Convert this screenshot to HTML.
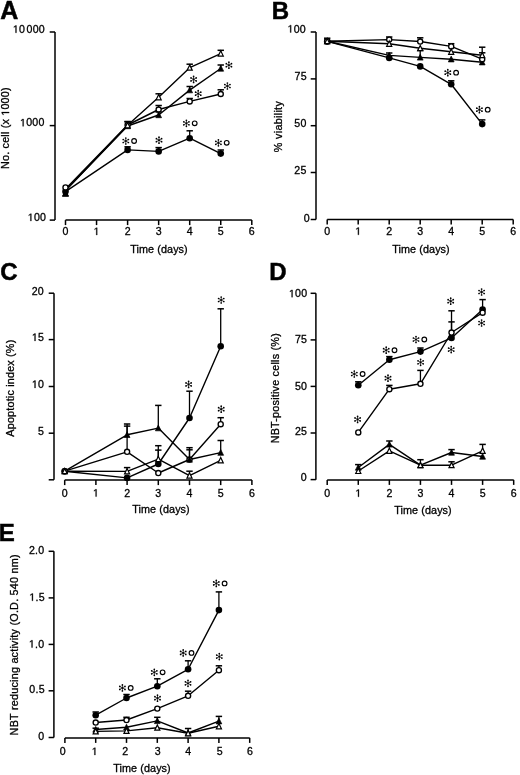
<!DOCTYPE html><html><head><meta charset="utf-8"><title>Figure</title><style>html,body{margin:0;padding:0;background:#fff;}svg{display:block;filter:grayscale(1);}text{font-family:"Liberation Sans", sans-serif;fill:#000;stroke:#000;stroke-width:0.3px;}text.L{stroke-width:0.5px;} tspan.o1{fill:transparent;stroke:none;}</style></head><body>
<svg width="520" height="775" viewBox="0 0 520 775">
<rect width="520" height="775" fill="#fff"/>
<g stroke="#000" fill="none" stroke-linecap="butt">
<line x1="55.00" y1="32.00" x2="55.00" y2="220.10" stroke-width="1.5"/>
<line x1="49.70" y1="32.00" x2="55.00" y2="32.00" stroke-width="1.5"/>
<text id="t1" x="45.0" y="32.8" font-size="10.6" text-anchor="end" letter-spacing="0.25"><tspan class="o1">1</tspan>0<tspan dx="1.4">000</tspan></text>
<path transform="translate(12.850 32.800) scale(0.005176 -0.005176)" d="M515,0L696,0L696,1409L530,1409L197,1180L197,1010L515,1237Z" fill="#000" stroke="#000" stroke-width="0.3" vector-effect="non-scaling-stroke"/>
<line x1="49.70" y1="125.60" x2="55.00" y2="125.60" stroke-width="1.5"/>
<text id="t2" x="44.6" y="126.3" font-size="10.6" text-anchor="end" letter-spacing="0.25"><tspan class="o1">1</tspan>000</text>
<path transform="translate(20.006 126.300) scale(0.005176 -0.005176)" d="M515,0L696,0L696,1409L530,1409L197,1180L197,1010L515,1237Z" fill="#000" stroke="#000" stroke-width="0.3" vector-effect="non-scaling-stroke"/>
<line x1="49.70" y1="220.10" x2="55.00" y2="220.10" stroke-width="1.5"/>
<text id="t3" x="46.2" y="221.0" font-size="10.6" text-anchor="end" letter-spacing="0.25"><tspan class="o1">1</tspan>00</text>
<path transform="translate(27.747 221.000) scale(0.005176 -0.005176)" d="M515,0L696,0L696,1409L530,1409L197,1180L197,1010L515,1237Z" fill="#000" stroke="#000" stroke-width="0.3" vector-effect="non-scaling-stroke"/>
<line x1="65.50" y1="220.10" x2="251.80" y2="220.10" stroke-width="1.5"/>
<line x1="65.50" y1="220.10" x2="65.50" y2="225.10" stroke-width="1.5"/>
<line x1="96.55" y1="220.10" x2="96.55" y2="225.10" stroke-width="1.5"/>
<line x1="127.60" y1="220.10" x2="127.60" y2="225.10" stroke-width="1.5"/>
<line x1="158.65" y1="220.10" x2="158.65" y2="225.10" stroke-width="1.5"/>
<line x1="189.70" y1="220.10" x2="189.70" y2="225.10" stroke-width="1.5"/>
<line x1="220.75" y1="220.10" x2="220.75" y2="225.10" stroke-width="1.5"/>
<line x1="251.80" y1="220.10" x2="251.80" y2="225.10" stroke-width="1.5"/>
<text x="65.50" y="235.0" font-size="10.6" text-anchor="middle">0</text>
<text id="t4" x="96.55" y="235.0" font-size="10.6" text-anchor="middle"><tspan class="o1">1</tspan></text>
<path transform="translate(93.597 235.000) scale(0.005176 -0.005176)" d="M515,0L696,0L696,1409L530,1409L197,1180L197,1010L515,1237Z" fill="#000" stroke="#000" stroke-width="0.3" vector-effect="non-scaling-stroke"/>
<text x="127.60" y="235.0" font-size="10.6" text-anchor="middle">2</text>
<text x="158.65" y="235.0" font-size="10.6" text-anchor="middle">3</text>
<text x="189.70" y="235.0" font-size="10.6" text-anchor="middle">4</text>
<text x="220.75" y="235.0" font-size="10.6" text-anchor="middle">5</text>
<text x="251.80" y="235.0" font-size="10.6" text-anchor="middle">6</text>
<text x="159.0" y="252.6" font-size="10.8" text-anchor="middle" textLength="57.4" lengthAdjust="spacing">Time (days)</text>
<text id="t5" x="9.1" y="128.2" font-size="10.8" text-anchor="middle" transform="rotate(-90 9.1 128.2)" textLength="81.6" lengthAdjust="spacing">No. cell (x <tspan class="o1">1</tspan>000)</text>
<g transform="rotate(-90 9.1 128.2)"><path transform="translate(21.516 128.200) scale(0.005273 -0.005273)" d="M515,0L696,0L696,1409L530,1409L197,1180L197,1010L515,1237Z" fill="#000" stroke="#000" stroke-width="0.3" vector-effect="non-scaling-stroke"/></g>
<text x="0.2" y="18.5" font-size="25" font-weight="bold" class="L">A</text>
<polyline points="65.50,191.60 127.60,149.90 158.65,151.40 189.70,138.20 220.75,153.60" fill="none" stroke-width="1.4" stroke-linejoin="round"/>
<polyline points="65.50,190.50 127.60,126.00 158.65,115.00 189.70,90.10 220.75,68.50" fill="none" stroke-width="1.4" stroke-linejoin="round"/>
<polyline points="65.50,190.50 127.60,125.30 158.65,97.30 189.70,67.70 220.75,53.60" fill="none" stroke-width="1.4" stroke-linejoin="round"/>
<polyline points="65.50,189.00 127.60,125.00 158.65,109.50 189.70,101.40 220.75,94.00" fill="none" stroke-width="1.4" stroke-linejoin="round"/>
<line x1="127.60" y1="149.90" x2="127.60" y2="146.80" stroke-width="1.3"/>
<line x1="124.40" y1="146.80" x2="130.80" y2="146.80" stroke-width="1.5"/>
<line x1="158.65" y1="151.40" x2="158.65" y2="147.60" stroke-width="1.3"/>
<line x1="155.45" y1="147.60" x2="161.85" y2="147.60" stroke-width="1.5"/>
<line x1="189.70" y1="138.20" x2="189.70" y2="130.80" stroke-width="1.3"/>
<line x1="186.50" y1="130.80" x2="192.90" y2="130.80" stroke-width="1.5"/>
<line x1="220.75" y1="153.60" x2="220.75" y2="150.00" stroke-width="1.3"/>
<line x1="217.55" y1="150.00" x2="223.95" y2="150.00" stroke-width="1.5"/>
<line x1="158.65" y1="115.00" x2="158.65" y2="112.00" stroke-width="1.3"/>
<line x1="155.45" y1="112.00" x2="161.85" y2="112.00" stroke-width="1.5"/>
<line x1="189.70" y1="90.10" x2="189.70" y2="86.50" stroke-width="1.3"/>
<line x1="186.50" y1="86.50" x2="192.90" y2="86.50" stroke-width="1.5"/>
<line x1="220.75" y1="68.50" x2="220.75" y2="65.00" stroke-width="1.3"/>
<line x1="217.55" y1="65.00" x2="223.95" y2="65.00" stroke-width="1.5"/>
<line x1="127.60" y1="125.30" x2="127.60" y2="121.80" stroke-width="1.3"/>
<line x1="124.40" y1="121.80" x2="130.80" y2="121.80" stroke-width="1.5"/>
<line x1="158.65" y1="97.30" x2="158.65" y2="93.80" stroke-width="1.3"/>
<line x1="155.45" y1="93.80" x2="161.85" y2="93.80" stroke-width="1.5"/>
<line x1="189.70" y1="67.70" x2="189.70" y2="64.20" stroke-width="1.3"/>
<line x1="186.50" y1="64.20" x2="192.90" y2="64.20" stroke-width="1.5"/>
<line x1="220.75" y1="53.60" x2="220.75" y2="50.30" stroke-width="1.3"/>
<line x1="217.55" y1="50.30" x2="223.95" y2="50.30" stroke-width="1.5"/>
<line x1="127.60" y1="125.00" x2="127.60" y2="121.50" stroke-width="1.3"/>
<line x1="124.40" y1="121.50" x2="130.80" y2="121.50" stroke-width="1.5"/>
<line x1="158.65" y1="109.50" x2="158.65" y2="105.50" stroke-width="1.3"/>
<line x1="155.45" y1="105.50" x2="161.85" y2="105.50" stroke-width="1.5"/>
<line x1="189.70" y1="101.40" x2="189.70" y2="98.50" stroke-width="1.3"/>
<line x1="186.50" y1="98.50" x2="192.90" y2="98.50" stroke-width="1.5"/>
<line x1="220.75" y1="94.00" x2="220.75" y2="89.80" stroke-width="1.3"/>
<line x1="217.55" y1="89.80" x2="223.95" y2="89.80" stroke-width="1.5"/>
<circle cx="127.60" cy="125.00" r="2.55" fill="#fff" stroke-width="1.35"/>
<circle cx="158.65" cy="109.50" r="2.55" fill="#fff" stroke-width="1.35"/>
<circle cx="189.70" cy="101.40" r="2.55" fill="#fff" stroke-width="1.35"/>
<circle cx="220.75" cy="94.00" r="2.55" fill="#fff" stroke-width="1.35"/>
<polygon points="127.60,122.90 124.70,128.70 130.50,128.70" fill="#000" stroke-width="0.7" stroke-linejoin="miter"/>
<polygon points="158.65,111.90 155.75,117.70 161.55,117.70" fill="#000" stroke-width="0.7" stroke-linejoin="miter"/>
<polygon points="189.70,87.00 186.80,92.80 192.60,92.80" fill="#000" stroke-width="0.7" stroke-linejoin="miter"/>
<polygon points="220.75,65.40 217.85,71.20 223.65,71.20" fill="#000" stroke-width="0.7" stroke-linejoin="miter"/>
<polygon points="65.50,190.80 62.95,196.10 68.05,196.10" fill="#fff" stroke-width="1.2" stroke-linejoin="miter"/>
<polygon points="127.60,122.50 125.05,127.80 130.15,127.80" fill="#fff" stroke-width="1.2" stroke-linejoin="miter"/>
<polygon points="158.65,94.50 156.10,99.80 161.20,99.80" fill="#fff" stroke-width="1.2" stroke-linejoin="miter"/>
<polygon points="189.70,64.90 187.15,70.20 192.25,70.20" fill="#fff" stroke-width="1.2" stroke-linejoin="miter"/>
<polygon points="220.75,50.80 218.20,56.10 223.30,56.10" fill="#fff" stroke-width="1.2" stroke-linejoin="miter"/>
<polygon points="65.50,190.20 62.60,196.00 68.40,196.00" fill="#000" stroke-width="0.7" stroke-linejoin="miter"/>
<circle cx="65.50" cy="191.60" r="3.3" fill="#000" stroke="none"/>
<circle cx="127.60" cy="149.90" r="3.3" fill="#000" stroke="none"/>
<circle cx="158.65" cy="151.40" r="3.3" fill="#000" stroke="none"/>
<circle cx="189.70" cy="138.20" r="3.3" fill="#000" stroke="none"/>
<circle cx="220.75" cy="153.60" r="3.3" fill="#000" stroke="none"/>
<circle cx="65.50" cy="187.40" r="2.55" fill="#fff" stroke-width="1.35"/>
<line x1="125.80" y1="138.00" x2="125.80" y2="144.00" stroke-width="0.7"/>
<circle cx="125.80" cy="138.00" r="0.85" fill="#000" stroke="none"/>
<circle cx="125.80" cy="144.00" r="0.85" fill="#000" stroke="none"/>
<line x1="123.20" y1="139.50" x2="128.40" y2="142.50" stroke-width="0.7"/>
<circle cx="123.20" cy="139.50" r="0.85" fill="#000" stroke="none"/>
<circle cx="128.40" cy="142.50" r="0.85" fill="#000" stroke="none"/>
<line x1="128.40" y1="139.50" x2="123.20" y2="142.50" stroke-width="0.7"/>
<circle cx="128.40" cy="139.50" r="0.85" fill="#000" stroke="none"/>
<circle cx="123.20" cy="142.50" r="0.85" fill="#000" stroke="none"/>
<circle cx="125.80" cy="141.00" r="0.85" fill="#000" stroke="none"/>
<circle cx="134.10" cy="141.00" r="2.35" fill="none" stroke-width="1.15"/>
<line x1="159.00" y1="137.20" x2="159.00" y2="143.20" stroke-width="0.7"/>
<circle cx="159.00" cy="137.20" r="0.85" fill="#000" stroke="none"/>
<circle cx="159.00" cy="143.20" r="0.85" fill="#000" stroke="none"/>
<line x1="156.40" y1="138.70" x2="161.60" y2="141.70" stroke-width="0.7"/>
<circle cx="156.40" cy="138.70" r="0.85" fill="#000" stroke="none"/>
<circle cx="161.60" cy="141.70" r="0.85" fill="#000" stroke="none"/>
<line x1="161.60" y1="138.70" x2="156.40" y2="141.70" stroke-width="0.7"/>
<circle cx="161.60" cy="138.70" r="0.85" fill="#000" stroke="none"/>
<circle cx="156.40" cy="141.70" r="0.85" fill="#000" stroke="none"/>
<circle cx="159.00" cy="140.20" r="0.85" fill="#000" stroke="none"/>
<line x1="193.60" y1="76.40" x2="193.60" y2="82.40" stroke-width="0.7"/>
<circle cx="193.60" cy="76.40" r="0.85" fill="#000" stroke="none"/>
<circle cx="193.60" cy="82.40" r="0.85" fill="#000" stroke="none"/>
<line x1="191.00" y1="77.90" x2="196.20" y2="80.90" stroke-width="0.7"/>
<circle cx="191.00" cy="77.90" r="0.85" fill="#000" stroke="none"/>
<circle cx="196.20" cy="80.90" r="0.85" fill="#000" stroke="none"/>
<line x1="196.20" y1="77.90" x2="191.00" y2="80.90" stroke-width="0.7"/>
<circle cx="196.20" cy="77.90" r="0.85" fill="#000" stroke="none"/>
<circle cx="191.00" cy="80.90" r="0.85" fill="#000" stroke="none"/>
<circle cx="193.60" cy="79.40" r="0.85" fill="#000" stroke="none"/>
<line x1="198.20" y1="90.70" x2="198.20" y2="96.70" stroke-width="0.7"/>
<circle cx="198.20" cy="90.70" r="0.85" fill="#000" stroke="none"/>
<circle cx="198.20" cy="96.70" r="0.85" fill="#000" stroke="none"/>
<line x1="195.60" y1="92.20" x2="200.80" y2="95.20" stroke-width="0.7"/>
<circle cx="195.60" cy="92.20" r="0.85" fill="#000" stroke="none"/>
<circle cx="200.80" cy="95.20" r="0.85" fill="#000" stroke="none"/>
<line x1="200.80" y1="92.20" x2="195.60" y2="95.20" stroke-width="0.7"/>
<circle cx="200.80" cy="92.20" r="0.85" fill="#000" stroke="none"/>
<circle cx="195.60" cy="95.20" r="0.85" fill="#000" stroke="none"/>
<circle cx="198.20" cy="93.70" r="0.85" fill="#000" stroke="none"/>
<line x1="186.40" y1="120.30" x2="186.40" y2="126.30" stroke-width="0.7"/>
<circle cx="186.40" cy="120.30" r="0.85" fill="#000" stroke="none"/>
<circle cx="186.40" cy="126.30" r="0.85" fill="#000" stroke="none"/>
<line x1="183.80" y1="121.80" x2="189.00" y2="124.80" stroke-width="0.7"/>
<circle cx="183.80" cy="121.80" r="0.85" fill="#000" stroke="none"/>
<circle cx="189.00" cy="124.80" r="0.85" fill="#000" stroke="none"/>
<line x1="189.00" y1="121.80" x2="183.80" y2="124.80" stroke-width="0.7"/>
<circle cx="189.00" cy="121.80" r="0.85" fill="#000" stroke="none"/>
<circle cx="183.80" cy="124.80" r="0.85" fill="#000" stroke="none"/>
<circle cx="186.40" cy="123.30" r="0.85" fill="#000" stroke="none"/>
<circle cx="194.70" cy="123.30" r="2.35" fill="none" stroke-width="1.15"/>
<line x1="228.90" y1="62.20" x2="228.90" y2="68.20" stroke-width="0.7"/>
<circle cx="228.90" cy="62.20" r="0.85" fill="#000" stroke="none"/>
<circle cx="228.90" cy="68.20" r="0.85" fill="#000" stroke="none"/>
<line x1="226.30" y1="63.70" x2="231.50" y2="66.70" stroke-width="0.7"/>
<circle cx="226.30" cy="63.70" r="0.85" fill="#000" stroke="none"/>
<circle cx="231.50" cy="66.70" r="0.85" fill="#000" stroke="none"/>
<line x1="231.50" y1="63.70" x2="226.30" y2="66.70" stroke-width="0.7"/>
<circle cx="231.50" cy="63.70" r="0.85" fill="#000" stroke="none"/>
<circle cx="226.30" cy="66.70" r="0.85" fill="#000" stroke="none"/>
<circle cx="228.90" cy="65.20" r="0.85" fill="#000" stroke="none"/>
<line x1="227.40" y1="83.00" x2="227.40" y2="89.00" stroke-width="0.7"/>
<circle cx="227.40" cy="83.00" r="0.85" fill="#000" stroke="none"/>
<circle cx="227.40" cy="89.00" r="0.85" fill="#000" stroke="none"/>
<line x1="224.80" y1="84.50" x2="230.00" y2="87.50" stroke-width="0.7"/>
<circle cx="224.80" cy="84.50" r="0.85" fill="#000" stroke="none"/>
<circle cx="230.00" cy="87.50" r="0.85" fill="#000" stroke="none"/>
<line x1="230.00" y1="84.50" x2="224.80" y2="87.50" stroke-width="0.7"/>
<circle cx="230.00" cy="84.50" r="0.85" fill="#000" stroke="none"/>
<circle cx="224.80" cy="87.50" r="0.85" fill="#000" stroke="none"/>
<circle cx="227.40" cy="86.00" r="0.85" fill="#000" stroke="none"/>
<line x1="218.40" y1="139.80" x2="218.40" y2="145.80" stroke-width="0.7"/>
<circle cx="218.40" cy="139.80" r="0.85" fill="#000" stroke="none"/>
<circle cx="218.40" cy="145.80" r="0.85" fill="#000" stroke="none"/>
<line x1="215.80" y1="141.30" x2="221.00" y2="144.30" stroke-width="0.7"/>
<circle cx="215.80" cy="141.30" r="0.85" fill="#000" stroke="none"/>
<circle cx="221.00" cy="144.30" r="0.85" fill="#000" stroke="none"/>
<line x1="221.00" y1="141.30" x2="215.80" y2="144.30" stroke-width="0.7"/>
<circle cx="221.00" cy="141.30" r="0.85" fill="#000" stroke="none"/>
<circle cx="215.80" cy="144.30" r="0.85" fill="#000" stroke="none"/>
<circle cx="218.40" cy="142.80" r="0.85" fill="#000" stroke="none"/>
<circle cx="226.70" cy="142.80" r="2.35" fill="none" stroke-width="1.15"/>
<line x1="316.00" y1="32.00" x2="316.00" y2="219.50" stroke-width="1.5"/>
<line x1="310.70" y1="32.00" x2="316.00" y2="32.00" stroke-width="1.5"/>
<text id="t6" x="306.0" y="32.5" font-size="10.6" text-anchor="end" letter-spacing="0.25"><tspan class="o1">1</tspan>00</text>
<path transform="translate(287.547 32.500) scale(0.005176 -0.005176)" d="M515,0L696,0L696,1409L530,1409L197,1180L197,1010L515,1237Z" fill="#000" stroke="#000" stroke-width="0.3" vector-effect="non-scaling-stroke"/>
<line x1="310.70" y1="78.90" x2="316.00" y2="78.90" stroke-width="1.5"/>
<text x="306.8" y="79.7" font-size="10.6" text-anchor="end" letter-spacing="0.25">75</text>
<line x1="310.70" y1="125.70" x2="316.00" y2="125.70" stroke-width="1.5"/>
<text x="306.6" y="127.4" font-size="10.6" text-anchor="end" letter-spacing="0.25">50</text>
<line x1="310.70" y1="172.50" x2="316.00" y2="172.50" stroke-width="1.5"/>
<text x="306.6" y="174.3" font-size="10.6" text-anchor="end" letter-spacing="0.25">25</text>
<line x1="310.70" y1="219.50" x2="316.00" y2="219.50" stroke-width="1.5"/>
<text x="310.0" y="221.5" font-size="10.6" text-anchor="end" letter-spacing="0.25">0</text>
<line x1="327.20" y1="219.60" x2="513.20" y2="219.60" stroke-width="1.5"/>
<line x1="327.20" y1="219.60" x2="327.20" y2="224.60" stroke-width="1.5"/>
<line x1="358.20" y1="219.60" x2="358.20" y2="224.60" stroke-width="1.5"/>
<line x1="389.20" y1="219.60" x2="389.20" y2="224.60" stroke-width="1.5"/>
<line x1="420.20" y1="219.60" x2="420.20" y2="224.60" stroke-width="1.5"/>
<line x1="451.20" y1="219.60" x2="451.20" y2="224.60" stroke-width="1.5"/>
<line x1="482.20" y1="219.60" x2="482.20" y2="224.60" stroke-width="1.5"/>
<line x1="513.20" y1="219.60" x2="513.20" y2="224.60" stroke-width="1.5"/>
<text x="327.20" y="234.8" font-size="10.6" text-anchor="middle">0</text>
<text id="t7" x="358.20" y="234.8" font-size="10.6" text-anchor="middle"><tspan class="o1">1</tspan></text>
<path transform="translate(355.247 234.800) scale(0.005176 -0.005176)" d="M515,0L696,0L696,1409L530,1409L197,1180L197,1010L515,1237Z" fill="#000" stroke="#000" stroke-width="0.3" vector-effect="non-scaling-stroke"/>
<text x="389.20" y="234.8" font-size="10.6" text-anchor="middle">2</text>
<text x="420.20" y="234.8" font-size="10.6" text-anchor="middle">3</text>
<text x="451.20" y="234.8" font-size="10.6" text-anchor="middle">4</text>
<text x="482.20" y="234.8" font-size="10.6" text-anchor="middle">5</text>
<text x="513.20" y="234.8" font-size="10.6" text-anchor="middle">6</text>
<text x="421.0" y="252.6" font-size="10.8" text-anchor="middle" textLength="57.4" lengthAdjust="spacing">Time (days)</text>
<text x="281.6" y="126.7" font-size="10.8" text-anchor="middle" transform="rotate(-90 281.6 126.7)" textLength="51.0" lengthAdjust="spacing">% viability</text>
<text x="271.8" y="18.6" font-size="24" font-weight="bold" class="L">B</text>
<polyline points="327.20,41.20 389.20,43.80 420.20,48.20 451.20,51.80 482.20,55.20" fill="none" stroke-width="1.4" stroke-linejoin="round"/>
<polyline points="327.20,41.20 389.20,39.60 420.20,41.50 451.20,46.40 482.20,59.20" fill="none" stroke-width="1.4" stroke-linejoin="round"/>
<polyline points="327.20,41.20 389.20,55.40 420.20,57.40 451.20,59.20 482.20,62.20" fill="none" stroke-width="1.4" stroke-linejoin="round"/>
<polyline points="327.20,41.40 389.20,57.90 420.20,66.40 451.20,84.30 482.20,124.10" fill="none" stroke-width="1.4" stroke-linejoin="round"/>
<line x1="482.20" y1="55.20" x2="482.20" y2="47.20" stroke-width="1.3"/>
<line x1="479.00" y1="47.20" x2="485.40" y2="47.20" stroke-width="1.5"/>
<line x1="389.20" y1="39.60" x2="389.20" y2="37.00" stroke-width="1.3"/>
<line x1="386.00" y1="37.00" x2="392.40" y2="37.00" stroke-width="1.5"/>
<line x1="420.20" y1="41.50" x2="420.20" y2="37.80" stroke-width="1.3"/>
<line x1="417.00" y1="37.80" x2="423.40" y2="37.80" stroke-width="1.5"/>
<line x1="451.20" y1="46.40" x2="451.20" y2="43.70" stroke-width="1.3"/>
<line x1="448.00" y1="43.70" x2="454.40" y2="43.70" stroke-width="1.5"/>
<line x1="482.20" y1="59.20" x2="482.20" y2="52.80" stroke-width="1.3"/>
<line x1="479.00" y1="52.80" x2="485.40" y2="52.80" stroke-width="1.5"/>
<line x1="389.20" y1="55.40" x2="389.20" y2="53.00" stroke-width="1.3"/>
<line x1="386.00" y1="53.00" x2="392.40" y2="53.00" stroke-width="1.5"/>
<line x1="420.20" y1="57.40" x2="420.20" y2="50.50" stroke-width="1.3"/>
<line x1="417.00" y1="50.50" x2="423.40" y2="50.50" stroke-width="1.5"/>
<line x1="327.20" y1="41.40" x2="327.20" y2="38.20" stroke-width="1.3"/>
<line x1="324.00" y1="38.20" x2="330.40" y2="38.20" stroke-width="1.5"/>
<line x1="451.20" y1="84.30" x2="451.20" y2="80.80" stroke-width="1.3"/>
<line x1="448.00" y1="80.80" x2="454.40" y2="80.80" stroke-width="1.5"/>
<line x1="482.20" y1="124.10" x2="482.20" y2="119.90" stroke-width="1.3"/>
<line x1="479.00" y1="119.90" x2="485.40" y2="119.90" stroke-width="1.5"/>
<circle cx="327.20" cy="41.40" r="3.3" fill="#000" stroke="none"/>
<circle cx="389.20" cy="57.90" r="3.3" fill="#000" stroke="none"/>
<circle cx="420.20" cy="66.40" r="3.3" fill="#000" stroke="none"/>
<circle cx="451.20" cy="84.30" r="3.3" fill="#000" stroke="none"/>
<circle cx="482.20" cy="124.10" r="3.3" fill="#000" stroke="none"/>
<polygon points="327.20,38.10 324.30,43.90 330.10,43.90" fill="#000" stroke-width="0.7" stroke-linejoin="miter"/>
<polygon points="389.20,52.30 386.30,58.10 392.10,58.10" fill="#000" stroke-width="0.7" stroke-linejoin="miter"/>
<polygon points="420.20,54.30 417.30,60.10 423.10,60.10" fill="#000" stroke-width="0.7" stroke-linejoin="miter"/>
<polygon points="451.20,56.10 448.30,61.90 454.10,61.90" fill="#000" stroke-width="0.7" stroke-linejoin="miter"/>
<polygon points="482.20,59.10 479.30,64.90 485.10,64.90" fill="#000" stroke-width="0.7" stroke-linejoin="miter"/>
<circle cx="327.20" cy="41.20" r="2.55" fill="#fff" stroke-width="1.35"/>
<circle cx="389.20" cy="39.60" r="2.55" fill="#fff" stroke-width="1.35"/>
<circle cx="420.20" cy="41.50" r="2.55" fill="#fff" stroke-width="1.35"/>
<circle cx="451.20" cy="46.40" r="2.55" fill="#fff" stroke-width="1.35"/>
<circle cx="482.20" cy="59.20" r="2.55" fill="#fff" stroke-width="1.35"/>
<polygon points="327.20,38.40 324.65,43.70 329.75,43.70" fill="#fff" stroke-width="1.2" stroke-linejoin="miter"/>
<polygon points="389.20,41.00 386.65,46.30 391.75,46.30" fill="#fff" stroke-width="1.2" stroke-linejoin="miter"/>
<polygon points="420.20,45.40 417.65,50.70 422.75,50.70" fill="#fff" stroke-width="1.2" stroke-linejoin="miter"/>
<polygon points="451.20,49.00 448.65,54.30 453.75,54.30" fill="#fff" stroke-width="1.2" stroke-linejoin="miter"/>
<polygon points="482.20,52.40 479.65,57.70 484.75,57.70" fill="#fff" stroke-width="1.2" stroke-linejoin="miter"/>
<line x1="447.80" y1="69.70" x2="447.80" y2="75.70" stroke-width="0.7"/>
<circle cx="447.80" cy="69.70" r="0.85" fill="#000" stroke="none"/>
<circle cx="447.80" cy="75.70" r="0.85" fill="#000" stroke="none"/>
<line x1="445.20" y1="71.20" x2="450.40" y2="74.20" stroke-width="0.7"/>
<circle cx="445.20" cy="71.20" r="0.85" fill="#000" stroke="none"/>
<circle cx="450.40" cy="74.20" r="0.85" fill="#000" stroke="none"/>
<line x1="450.40" y1="71.20" x2="445.20" y2="74.20" stroke-width="0.7"/>
<circle cx="450.40" cy="71.20" r="0.85" fill="#000" stroke="none"/>
<circle cx="445.20" cy="74.20" r="0.85" fill="#000" stroke="none"/>
<circle cx="447.80" cy="72.70" r="0.85" fill="#000" stroke="none"/>
<circle cx="456.10" cy="72.70" r="2.35" fill="none" stroke-width="1.15"/>
<line x1="479.40" y1="106.70" x2="479.40" y2="112.70" stroke-width="0.7"/>
<circle cx="479.40" cy="106.70" r="0.85" fill="#000" stroke="none"/>
<circle cx="479.40" cy="112.70" r="0.85" fill="#000" stroke="none"/>
<line x1="476.80" y1="108.20" x2="482.00" y2="111.20" stroke-width="0.7"/>
<circle cx="476.80" cy="108.20" r="0.85" fill="#000" stroke="none"/>
<circle cx="482.00" cy="111.20" r="0.85" fill="#000" stroke="none"/>
<line x1="482.00" y1="108.20" x2="476.80" y2="111.20" stroke-width="0.7"/>
<circle cx="482.00" cy="108.20" r="0.85" fill="#000" stroke="none"/>
<circle cx="476.80" cy="111.20" r="0.85" fill="#000" stroke="none"/>
<circle cx="479.40" cy="109.70" r="0.85" fill="#000" stroke="none"/>
<circle cx="487.70" cy="109.70" r="2.35" fill="none" stroke-width="1.15"/>
<line x1="54.00" y1="293.20" x2="54.00" y2="479.80" stroke-width="1.5"/>
<line x1="48.70" y1="293.20" x2="54.00" y2="293.20" stroke-width="1.5"/>
<text x="44.0" y="294.6" font-size="10.6" text-anchor="end" letter-spacing="0.25">20</text>
<line x1="48.70" y1="339.60" x2="54.00" y2="339.60" stroke-width="1.5"/>
<text id="t8" x="44.2" y="340.9" font-size="10.6" text-anchor="end" letter-spacing="0.25"><tspan class="o1">1</tspan>5</text>
<path transform="translate(31.888 340.900) scale(0.005176 -0.005176)" d="M515,0L696,0L696,1409L530,1409L197,1180L197,1010L515,1237Z" fill="#000" stroke="#000" stroke-width="0.3" vector-effect="non-scaling-stroke"/>
<line x1="48.70" y1="386.50" x2="54.00" y2="386.50" stroke-width="1.5"/>
<text id="t9" x="44.2" y="387.9" font-size="10.6" text-anchor="end" letter-spacing="0.25"><tspan class="o1">1</tspan>0</text>
<path transform="translate(31.888 387.900) scale(0.005176 -0.005176)" d="M515,0L696,0L696,1409L530,1409L197,1180L197,1010L515,1237Z" fill="#000" stroke="#000" stroke-width="0.3" vector-effect="non-scaling-stroke"/>
<line x1="48.70" y1="433.20" x2="54.00" y2="433.20" stroke-width="1.5"/>
<text x="44.2" y="434.6" font-size="10.6" text-anchor="end" letter-spacing="0.25">5</text>
<line x1="48.70" y1="479.80" x2="54.00" y2="479.80" stroke-width="1.5"/>
<line x1="64.70" y1="480.10" x2="251.90" y2="480.10" stroke-width="1.5"/>
<line x1="64.70" y1="480.10" x2="64.70" y2="485.10" stroke-width="1.5"/>
<line x1="95.90" y1="480.10" x2="95.90" y2="485.10" stroke-width="1.5"/>
<line x1="127.10" y1="480.10" x2="127.10" y2="485.10" stroke-width="1.5"/>
<line x1="158.30" y1="480.10" x2="158.30" y2="485.10" stroke-width="1.5"/>
<line x1="189.50" y1="480.10" x2="189.50" y2="485.10" stroke-width="1.5"/>
<line x1="220.70" y1="480.10" x2="220.70" y2="485.10" stroke-width="1.5"/>
<line x1="251.90" y1="480.10" x2="251.90" y2="485.10" stroke-width="1.5"/>
<text x="64.70" y="496.6" font-size="10.6" text-anchor="middle">0</text>
<text id="t10" x="95.90" y="496.6" font-size="10.6" text-anchor="middle"><tspan class="o1">1</tspan></text>
<path transform="translate(92.947 496.600) scale(0.005176 -0.005176)" d="M515,0L696,0L696,1409L530,1409L197,1180L197,1010L515,1237Z" fill="#000" stroke="#000" stroke-width="0.3" vector-effect="non-scaling-stroke"/>
<text x="127.10" y="496.6" font-size="10.6" text-anchor="middle">2</text>
<text x="158.30" y="496.6" font-size="10.6" text-anchor="middle">3</text>
<text x="189.50" y="496.6" font-size="10.6" text-anchor="middle">4</text>
<text x="220.70" y="496.6" font-size="10.6" text-anchor="middle">5</text>
<text x="251.90" y="496.6" font-size="10.6" text-anchor="middle">6</text>
<text x="161.0" y="512.8" font-size="10.8" text-anchor="middle" textLength="57.4" lengthAdjust="spacing">Time (days)</text>
<text x="14.0" y="388.2" font-size="10.8" text-anchor="middle" transform="rotate(-90 14.0 388.2)" textLength="96.9" lengthAdjust="spacing">Apoptotic index (%)</text>
<text x="0.2" y="279.5" font-size="24" font-weight="bold" class="L">C</text>
<polyline points="64.70,471.20 127.10,477.90 158.30,464.00 189.50,418.00 220.70,346.30" fill="none" stroke-width="1.4" stroke-linejoin="round"/>
<polyline points="64.70,471.20 127.10,451.80 158.30,473.00 189.50,459.50 220.70,424.20" fill="none" stroke-width="1.4" stroke-linejoin="round"/>
<polyline points="64.70,471.20 127.10,434.80 158.30,428.10 189.50,459.50 220.70,452.60" fill="none" stroke-width="1.4" stroke-linejoin="round"/>
<polyline points="64.70,471.20 127.10,471.40 158.30,459.10 189.50,475.60 220.70,460.30" fill="none" stroke-width="1.4" stroke-linejoin="round"/>
<line x1="158.30" y1="464.00" x2="158.30" y2="445.70" stroke-width="1.3"/>
<line x1="155.10" y1="445.70" x2="161.50" y2="445.70" stroke-width="1.5"/>
<line x1="189.50" y1="418.00" x2="189.50" y2="391.20" stroke-width="1.3"/>
<line x1="186.30" y1="391.20" x2="192.70" y2="391.20" stroke-width="1.5"/>
<line x1="220.70" y1="346.30" x2="220.70" y2="308.80" stroke-width="1.3"/>
<line x1="217.50" y1="308.80" x2="223.90" y2="308.80" stroke-width="1.5"/>
<line x1="127.10" y1="451.80" x2="127.10" y2="426.10" stroke-width="1.3"/>
<line x1="123.90" y1="426.10" x2="130.30" y2="426.10" stroke-width="1.5"/>
<line x1="189.50" y1="459.50" x2="189.50" y2="449.80" stroke-width="1.3"/>
<line x1="186.30" y1="449.80" x2="192.70" y2="449.80" stroke-width="1.5"/>
<line x1="220.70" y1="424.20" x2="220.70" y2="417.70" stroke-width="1.3"/>
<line x1="217.50" y1="417.70" x2="223.90" y2="417.70" stroke-width="1.5"/>
<line x1="127.10" y1="434.80" x2="127.10" y2="424.00" stroke-width="1.3"/>
<line x1="123.90" y1="424.00" x2="130.30" y2="424.00" stroke-width="1.5"/>
<line x1="158.30" y1="428.10" x2="158.30" y2="405.40" stroke-width="1.3"/>
<line x1="155.10" y1="405.40" x2="161.50" y2="405.40" stroke-width="1.5"/>
<line x1="189.50" y1="459.50" x2="189.50" y2="447.70" stroke-width="1.3"/>
<line x1="186.30" y1="447.70" x2="192.70" y2="447.70" stroke-width="1.5"/>
<line x1="220.70" y1="452.60" x2="220.70" y2="440.50" stroke-width="1.3"/>
<line x1="217.50" y1="440.50" x2="223.90" y2="440.50" stroke-width="1.5"/>
<line x1="127.10" y1="471.40" x2="127.10" y2="467.60" stroke-width="1.3"/>
<line x1="123.90" y1="467.60" x2="130.30" y2="467.60" stroke-width="1.5"/>
<line x1="158.30" y1="459.10" x2="158.30" y2="450.10" stroke-width="1.3"/>
<line x1="155.10" y1="450.10" x2="161.50" y2="450.10" stroke-width="1.5"/>
<line x1="189.50" y1="475.60" x2="189.50" y2="471.20" stroke-width="1.3"/>
<line x1="186.30" y1="471.20" x2="192.70" y2="471.20" stroke-width="1.5"/>
<circle cx="64.70" cy="471.20" r="3.3" fill="#000" stroke="none"/>
<circle cx="127.10" cy="477.90" r="3.3" fill="#000" stroke="none"/>
<circle cx="158.30" cy="464.00" r="3.3" fill="#000" stroke="none"/>
<circle cx="189.50" cy="418.00" r="3.3" fill="#000" stroke="none"/>
<circle cx="220.70" cy="346.30" r="3.3" fill="#000" stroke="none"/>
<circle cx="64.70" cy="471.20" r="2.55" fill="#fff" stroke-width="1.35"/>
<circle cx="127.10" cy="451.80" r="2.55" fill="#fff" stroke-width="1.35"/>
<circle cx="158.30" cy="473.00" r="2.55" fill="#fff" stroke-width="1.35"/>
<circle cx="189.50" cy="459.50" r="2.55" fill="#fff" stroke-width="1.35"/>
<circle cx="220.70" cy="424.20" r="2.55" fill="#fff" stroke-width="1.35"/>
<polygon points="64.70,468.10 61.80,473.90 67.60,473.90" fill="#000" stroke-width="0.7" stroke-linejoin="miter"/>
<polygon points="127.10,431.70 124.20,437.50 130.00,437.50" fill="#000" stroke-width="0.7" stroke-linejoin="miter"/>
<polygon points="158.30,425.00 155.40,430.80 161.20,430.80" fill="#000" stroke-width="0.7" stroke-linejoin="miter"/>
<polygon points="189.50,456.40 186.60,462.20 192.40,462.20" fill="#000" stroke-width="0.7" stroke-linejoin="miter"/>
<polygon points="220.70,449.50 217.80,455.30 223.60,455.30" fill="#000" stroke-width="0.7" stroke-linejoin="miter"/>
<polygon points="64.70,468.40 62.15,473.70 67.25,473.70" fill="#fff" stroke-width="1.2" stroke-linejoin="miter"/>
<polygon points="127.10,468.60 124.55,473.90 129.65,473.90" fill="#fff" stroke-width="1.2" stroke-linejoin="miter"/>
<polygon points="158.30,456.30 155.75,461.60 160.85,461.60" fill="#fff" stroke-width="1.2" stroke-linejoin="miter"/>
<polygon points="189.50,472.80 186.95,478.10 192.05,478.10" fill="#fff" stroke-width="1.2" stroke-linejoin="miter"/>
<polygon points="220.70,457.50 218.15,462.80 223.25,462.80" fill="#fff" stroke-width="1.2" stroke-linejoin="miter"/>
<line x1="188.60" y1="381.40" x2="188.60" y2="387.40" stroke-width="0.7"/>
<circle cx="188.60" cy="381.40" r="0.85" fill="#000" stroke="none"/>
<circle cx="188.60" cy="387.40" r="0.85" fill="#000" stroke="none"/>
<line x1="186.00" y1="382.90" x2="191.20" y2="385.90" stroke-width="0.7"/>
<circle cx="186.00" cy="382.90" r="0.85" fill="#000" stroke="none"/>
<circle cx="191.20" cy="385.90" r="0.85" fill="#000" stroke="none"/>
<line x1="191.20" y1="382.90" x2="186.00" y2="385.90" stroke-width="0.7"/>
<circle cx="191.20" cy="382.90" r="0.85" fill="#000" stroke="none"/>
<circle cx="186.00" cy="385.90" r="0.85" fill="#000" stroke="none"/>
<circle cx="188.60" cy="384.40" r="0.85" fill="#000" stroke="none"/>
<line x1="221.20" y1="297.00" x2="221.20" y2="303.00" stroke-width="0.7"/>
<circle cx="221.20" cy="297.00" r="0.85" fill="#000" stroke="none"/>
<circle cx="221.20" cy="303.00" r="0.85" fill="#000" stroke="none"/>
<line x1="218.60" y1="298.50" x2="223.80" y2="301.50" stroke-width="0.7"/>
<circle cx="218.60" cy="298.50" r="0.85" fill="#000" stroke="none"/>
<circle cx="223.80" cy="301.50" r="0.85" fill="#000" stroke="none"/>
<line x1="223.80" y1="298.50" x2="218.60" y2="301.50" stroke-width="0.7"/>
<circle cx="223.80" cy="298.50" r="0.85" fill="#000" stroke="none"/>
<circle cx="218.60" cy="301.50" r="0.85" fill="#000" stroke="none"/>
<circle cx="221.20" cy="300.00" r="0.85" fill="#000" stroke="none"/>
<line x1="221.20" y1="406.20" x2="221.20" y2="412.20" stroke-width="0.7"/>
<circle cx="221.20" cy="406.20" r="0.85" fill="#000" stroke="none"/>
<circle cx="221.20" cy="412.20" r="0.85" fill="#000" stroke="none"/>
<line x1="218.60" y1="407.70" x2="223.80" y2="410.70" stroke-width="0.7"/>
<circle cx="218.60" cy="407.70" r="0.85" fill="#000" stroke="none"/>
<circle cx="223.80" cy="410.70" r="0.85" fill="#000" stroke="none"/>
<line x1="223.80" y1="407.70" x2="218.60" y2="410.70" stroke-width="0.7"/>
<circle cx="223.80" cy="407.70" r="0.85" fill="#000" stroke="none"/>
<circle cx="218.60" cy="410.70" r="0.85" fill="#000" stroke="none"/>
<circle cx="221.20" cy="409.20" r="0.85" fill="#000" stroke="none"/>
<line x1="315.90" y1="293.30" x2="315.90" y2="479.80" stroke-width="1.5"/>
<line x1="310.60" y1="293.30" x2="315.90" y2="293.30" stroke-width="1.5"/>
<text id="t11" x="307.4" y="297.2" font-size="10.6" text-anchor="end" letter-spacing="0.25"><tspan class="o1">1</tspan>00</text>
<path transform="translate(288.947 297.200) scale(0.005176 -0.005176)" d="M515,0L696,0L696,1409L530,1409L197,1180L197,1010L515,1237Z" fill="#000" stroke="#000" stroke-width="0.3" vector-effect="non-scaling-stroke"/>
<line x1="310.60" y1="339.90" x2="315.90" y2="339.90" stroke-width="1.5"/>
<text x="307.2" y="342.8" font-size="10.6" text-anchor="end" letter-spacing="0.25">75</text>
<line x1="310.60" y1="386.40" x2="315.90" y2="386.40" stroke-width="1.5"/>
<text x="307.2" y="390.3" font-size="10.6" text-anchor="end" letter-spacing="0.25">50</text>
<line x1="310.60" y1="433.00" x2="315.90" y2="433.00" stroke-width="1.5"/>
<text x="307.2" y="434.6" font-size="10.6" text-anchor="end" letter-spacing="0.25">25</text>
<line x1="310.60" y1="479.60" x2="315.90" y2="479.60" stroke-width="1.5"/>
<text x="307.0" y="480.6" font-size="10.6" text-anchor="end" letter-spacing="0.25">0</text>
<line x1="327.20" y1="479.90" x2="513.68" y2="479.90" stroke-width="1.5"/>
<line x1="327.20" y1="479.90" x2="327.20" y2="484.90" stroke-width="1.5"/>
<line x1="358.28" y1="479.90" x2="358.28" y2="484.90" stroke-width="1.5"/>
<line x1="389.36" y1="479.90" x2="389.36" y2="484.90" stroke-width="1.5"/>
<line x1="420.44" y1="479.90" x2="420.44" y2="484.90" stroke-width="1.5"/>
<line x1="451.52" y1="479.90" x2="451.52" y2="484.90" stroke-width="1.5"/>
<line x1="482.60" y1="479.90" x2="482.60" y2="484.90" stroke-width="1.5"/>
<line x1="513.68" y1="479.90" x2="513.68" y2="484.90" stroke-width="1.5"/>
<text x="327.20" y="496.8" font-size="10.6" text-anchor="middle">0</text>
<text id="t12" x="358.28" y="496.8" font-size="10.6" text-anchor="middle"><tspan class="o1">1</tspan></text>
<path transform="translate(355.327 496.800) scale(0.005176 -0.005176)" d="M515,0L696,0L696,1409L530,1409L197,1180L197,1010L515,1237Z" fill="#000" stroke="#000" stroke-width="0.3" vector-effect="non-scaling-stroke"/>
<text x="389.36" y="496.8" font-size="10.6" text-anchor="middle">2</text>
<text x="420.44" y="496.8" font-size="10.6" text-anchor="middle">3</text>
<text x="451.52" y="496.8" font-size="10.6" text-anchor="middle">4</text>
<text x="482.60" y="496.8" font-size="10.6" text-anchor="middle">5</text>
<text x="513.68" y="496.8" font-size="10.6" text-anchor="middle">6</text>
<text x="423.0" y="513.6" font-size="10.8" text-anchor="middle" textLength="57.4" lengthAdjust="spacing">Time (days)</text>
<text x="278.8" y="388.3" font-size="10.8" text-anchor="middle" transform="rotate(-90 278.8 388.3)" textLength="110.1" lengthAdjust="spacing">NBT-positive cells (%)</text>
<text x="269.2" y="280.0" font-size="24" font-weight="bold" class="L">D</text>
<polyline points="358.28,467.50 389.36,444.40 420.44,465.20 451.52,452.50 482.60,456.50" fill="none" stroke-width="1.4" stroke-linejoin="round"/>
<polyline points="358.28,471.00 389.36,450.80 420.44,465.20 451.52,465.20 482.60,450.80" fill="none" stroke-width="1.4" stroke-linejoin="round"/>
<polyline points="358.28,385.20 389.36,359.80 420.44,351.60 451.52,337.90 482.60,309.60" fill="none" stroke-width="1.4" stroke-linejoin="round"/>
<polyline points="358.28,432.40 389.36,389.20 420.44,383.80 451.52,332.50 482.60,312.70" fill="none" stroke-width="1.4" stroke-linejoin="round"/>
<line x1="358.28" y1="467.50" x2="358.28" y2="464.60" stroke-width="1.3"/>
<line x1="355.08" y1="464.60" x2="361.48" y2="464.60" stroke-width="1.5"/>
<line x1="389.36" y1="444.40" x2="389.36" y2="441.00" stroke-width="1.3"/>
<line x1="386.16" y1="441.00" x2="392.56" y2="441.00" stroke-width="1.5"/>
<line x1="420.44" y1="465.20" x2="420.44" y2="459.70" stroke-width="1.3"/>
<line x1="417.24" y1="459.70" x2="423.64" y2="459.70" stroke-width="1.5"/>
<line x1="451.52" y1="452.50" x2="451.52" y2="449.60" stroke-width="1.3"/>
<line x1="448.32" y1="449.60" x2="454.72" y2="449.60" stroke-width="1.5"/>
<line x1="451.52" y1="465.20" x2="451.52" y2="461.80" stroke-width="1.3"/>
<line x1="448.32" y1="461.80" x2="454.72" y2="461.80" stroke-width="1.5"/>
<line x1="482.60" y1="450.80" x2="482.60" y2="444.40" stroke-width="1.3"/>
<line x1="479.40" y1="444.40" x2="485.80" y2="444.40" stroke-width="1.5"/>
<line x1="358.28" y1="385.20" x2="358.28" y2="381.80" stroke-width="1.3"/>
<line x1="355.08" y1="381.80" x2="361.48" y2="381.80" stroke-width="1.5"/>
<line x1="389.36" y1="359.80" x2="389.36" y2="356.60" stroke-width="1.3"/>
<line x1="386.16" y1="356.60" x2="392.56" y2="356.60" stroke-width="1.5"/>
<line x1="420.44" y1="351.60" x2="420.44" y2="348.00" stroke-width="1.3"/>
<line x1="417.24" y1="348.00" x2="423.64" y2="348.00" stroke-width="1.5"/>
<line x1="451.52" y1="337.90" x2="451.52" y2="321.90" stroke-width="1.3"/>
<line x1="448.32" y1="321.90" x2="454.72" y2="321.90" stroke-width="1.5"/>
<line x1="482.60" y1="309.60" x2="482.60" y2="299.60" stroke-width="1.3"/>
<line x1="479.40" y1="299.60" x2="485.80" y2="299.60" stroke-width="1.5"/>
<line x1="389.36" y1="389.20" x2="389.36" y2="385.40" stroke-width="1.3"/>
<line x1="386.16" y1="385.40" x2="392.56" y2="385.40" stroke-width="1.5"/>
<line x1="420.44" y1="383.80" x2="420.44" y2="370.40" stroke-width="1.3"/>
<line x1="417.24" y1="370.40" x2="423.64" y2="370.40" stroke-width="1.5"/>
<line x1="451.52" y1="332.50" x2="451.52" y2="310.80" stroke-width="1.3"/>
<line x1="448.32" y1="310.80" x2="454.72" y2="310.80" stroke-width="1.5"/>
<polygon points="358.28,464.40 355.38,470.20 361.18,470.20" fill="#000" stroke-width="0.7" stroke-linejoin="miter"/>
<polygon points="389.36,441.30 386.46,447.10 392.26,447.10" fill="#000" stroke-width="0.7" stroke-linejoin="miter"/>
<polygon points="420.44,462.10 417.54,467.90 423.34,467.90" fill="#000" stroke-width="0.7" stroke-linejoin="miter"/>
<polygon points="451.52,449.40 448.62,455.20 454.42,455.20" fill="#000" stroke-width="0.7" stroke-linejoin="miter"/>
<polygon points="482.60,453.40 479.70,459.20 485.50,459.20" fill="#000" stroke-width="0.7" stroke-linejoin="miter"/>
<polygon points="358.28,468.20 355.73,473.50 360.83,473.50" fill="#fff" stroke-width="1.2" stroke-linejoin="miter"/>
<polygon points="389.36,448.00 386.81,453.30 391.91,453.30" fill="#fff" stroke-width="1.2" stroke-linejoin="miter"/>
<polygon points="420.44,462.40 417.89,467.70 422.99,467.70" fill="#fff" stroke-width="1.2" stroke-linejoin="miter"/>
<polygon points="451.52,462.40 448.97,467.70 454.07,467.70" fill="#fff" stroke-width="1.2" stroke-linejoin="miter"/>
<polygon points="482.60,448.00 480.05,453.30 485.15,453.30" fill="#fff" stroke-width="1.2" stroke-linejoin="miter"/>
<circle cx="358.28" cy="385.20" r="3.3" fill="#000" stroke="none"/>
<circle cx="389.36" cy="359.80" r="3.3" fill="#000" stroke="none"/>
<circle cx="420.44" cy="351.60" r="3.3" fill="#000" stroke="none"/>
<circle cx="451.52" cy="337.90" r="3.3" fill="#000" stroke="none"/>
<circle cx="482.60" cy="309.60" r="3.3" fill="#000" stroke="none"/>
<circle cx="358.28" cy="432.40" r="2.55" fill="#fff" stroke-width="1.35"/>
<circle cx="389.36" cy="389.20" r="2.55" fill="#fff" stroke-width="1.35"/>
<circle cx="420.44" cy="383.80" r="2.55" fill="#fff" stroke-width="1.35"/>
<circle cx="451.52" cy="332.50" r="2.55" fill="#fff" stroke-width="1.35"/>
<circle cx="482.60" cy="312.70" r="2.55" fill="#fff" stroke-width="1.35"/>
<line x1="354.30" y1="371.00" x2="354.30" y2="377.00" stroke-width="0.7"/>
<circle cx="354.30" cy="371.00" r="0.85" fill="#000" stroke="none"/>
<circle cx="354.30" cy="377.00" r="0.85" fill="#000" stroke="none"/>
<line x1="351.70" y1="372.50" x2="356.90" y2="375.50" stroke-width="0.7"/>
<circle cx="351.70" cy="372.50" r="0.85" fill="#000" stroke="none"/>
<circle cx="356.90" cy="375.50" r="0.85" fill="#000" stroke="none"/>
<line x1="356.90" y1="372.50" x2="351.70" y2="375.50" stroke-width="0.7"/>
<circle cx="356.90" cy="372.50" r="0.85" fill="#000" stroke="none"/>
<circle cx="351.70" cy="375.50" r="0.85" fill="#000" stroke="none"/>
<circle cx="354.30" cy="374.00" r="0.85" fill="#000" stroke="none"/>
<circle cx="362.60" cy="374.00" r="2.35" fill="none" stroke-width="1.15"/>
<line x1="357.60" y1="416.40" x2="357.60" y2="422.40" stroke-width="0.7"/>
<circle cx="357.60" cy="416.40" r="0.85" fill="#000" stroke="none"/>
<circle cx="357.60" cy="422.40" r="0.85" fill="#000" stroke="none"/>
<line x1="355.00" y1="417.90" x2="360.20" y2="420.90" stroke-width="0.7"/>
<circle cx="355.00" cy="417.90" r="0.85" fill="#000" stroke="none"/>
<circle cx="360.20" cy="420.90" r="0.85" fill="#000" stroke="none"/>
<line x1="360.20" y1="417.90" x2="355.00" y2="420.90" stroke-width="0.7"/>
<circle cx="360.20" cy="417.90" r="0.85" fill="#000" stroke="none"/>
<circle cx="355.00" cy="420.90" r="0.85" fill="#000" stroke="none"/>
<circle cx="357.60" cy="419.40" r="0.85" fill="#000" stroke="none"/>
<line x1="386.20" y1="347.20" x2="386.20" y2="353.20" stroke-width="0.7"/>
<circle cx="386.20" cy="347.20" r="0.85" fill="#000" stroke="none"/>
<circle cx="386.20" cy="353.20" r="0.85" fill="#000" stroke="none"/>
<line x1="383.60" y1="348.70" x2="388.80" y2="351.70" stroke-width="0.7"/>
<circle cx="383.60" cy="348.70" r="0.85" fill="#000" stroke="none"/>
<circle cx="388.80" cy="351.70" r="0.85" fill="#000" stroke="none"/>
<line x1="388.80" y1="348.70" x2="383.60" y2="351.70" stroke-width="0.7"/>
<circle cx="388.80" cy="348.70" r="0.85" fill="#000" stroke="none"/>
<circle cx="383.60" cy="351.70" r="0.85" fill="#000" stroke="none"/>
<circle cx="386.20" cy="350.20" r="0.85" fill="#000" stroke="none"/>
<circle cx="394.50" cy="350.20" r="2.35" fill="none" stroke-width="1.15"/>
<line x1="388.00" y1="375.20" x2="388.00" y2="381.20" stroke-width="0.7"/>
<circle cx="388.00" cy="375.20" r="0.85" fill="#000" stroke="none"/>
<circle cx="388.00" cy="381.20" r="0.85" fill="#000" stroke="none"/>
<line x1="385.40" y1="376.70" x2="390.60" y2="379.70" stroke-width="0.7"/>
<circle cx="385.40" cy="376.70" r="0.85" fill="#000" stroke="none"/>
<circle cx="390.60" cy="379.70" r="0.85" fill="#000" stroke="none"/>
<line x1="390.60" y1="376.70" x2="385.40" y2="379.70" stroke-width="0.7"/>
<circle cx="390.60" cy="376.70" r="0.85" fill="#000" stroke="none"/>
<circle cx="385.40" cy="379.70" r="0.85" fill="#000" stroke="none"/>
<circle cx="388.00" cy="378.20" r="0.85" fill="#000" stroke="none"/>
<line x1="416.00" y1="336.50" x2="416.00" y2="342.50" stroke-width="0.7"/>
<circle cx="416.00" cy="336.50" r="0.85" fill="#000" stroke="none"/>
<circle cx="416.00" cy="342.50" r="0.85" fill="#000" stroke="none"/>
<line x1="413.40" y1="338.00" x2="418.60" y2="341.00" stroke-width="0.7"/>
<circle cx="413.40" cy="338.00" r="0.85" fill="#000" stroke="none"/>
<circle cx="418.60" cy="341.00" r="0.85" fill="#000" stroke="none"/>
<line x1="418.60" y1="338.00" x2="413.40" y2="341.00" stroke-width="0.7"/>
<circle cx="418.60" cy="338.00" r="0.85" fill="#000" stroke="none"/>
<circle cx="413.40" cy="341.00" r="0.85" fill="#000" stroke="none"/>
<circle cx="416.00" cy="339.50" r="0.85" fill="#000" stroke="none"/>
<circle cx="424.30" cy="339.50" r="2.35" fill="none" stroke-width="1.15"/>
<line x1="420.60" y1="359.30" x2="420.60" y2="365.30" stroke-width="0.7"/>
<circle cx="420.60" cy="359.30" r="0.85" fill="#000" stroke="none"/>
<circle cx="420.60" cy="365.30" r="0.85" fill="#000" stroke="none"/>
<line x1="418.00" y1="360.80" x2="423.20" y2="363.80" stroke-width="0.7"/>
<circle cx="418.00" cy="360.80" r="0.85" fill="#000" stroke="none"/>
<circle cx="423.20" cy="363.80" r="0.85" fill="#000" stroke="none"/>
<line x1="423.20" y1="360.80" x2="418.00" y2="363.80" stroke-width="0.7"/>
<circle cx="423.20" cy="360.80" r="0.85" fill="#000" stroke="none"/>
<circle cx="418.00" cy="363.80" r="0.85" fill="#000" stroke="none"/>
<circle cx="420.60" cy="362.30" r="0.85" fill="#000" stroke="none"/>
<line x1="450.70" y1="298.20" x2="450.70" y2="304.20" stroke-width="0.7"/>
<circle cx="450.70" cy="298.20" r="0.85" fill="#000" stroke="none"/>
<circle cx="450.70" cy="304.20" r="0.85" fill="#000" stroke="none"/>
<line x1="448.10" y1="299.70" x2="453.30" y2="302.70" stroke-width="0.7"/>
<circle cx="448.10" cy="299.70" r="0.85" fill="#000" stroke="none"/>
<circle cx="453.30" cy="302.70" r="0.85" fill="#000" stroke="none"/>
<line x1="453.30" y1="299.70" x2="448.10" y2="302.70" stroke-width="0.7"/>
<circle cx="453.30" cy="299.70" r="0.85" fill="#000" stroke="none"/>
<circle cx="448.10" cy="302.70" r="0.85" fill="#000" stroke="none"/>
<circle cx="450.70" cy="301.20" r="0.85" fill="#000" stroke="none"/>
<line x1="451.20" y1="346.60" x2="451.20" y2="352.60" stroke-width="0.7"/>
<circle cx="451.20" cy="346.60" r="0.85" fill="#000" stroke="none"/>
<circle cx="451.20" cy="352.60" r="0.85" fill="#000" stroke="none"/>
<line x1="448.60" y1="348.10" x2="453.80" y2="351.10" stroke-width="0.7"/>
<circle cx="448.60" cy="348.10" r="0.85" fill="#000" stroke="none"/>
<circle cx="453.80" cy="351.10" r="0.85" fill="#000" stroke="none"/>
<line x1="453.80" y1="348.10" x2="448.60" y2="351.10" stroke-width="0.7"/>
<circle cx="453.80" cy="348.10" r="0.85" fill="#000" stroke="none"/>
<circle cx="448.60" cy="351.10" r="0.85" fill="#000" stroke="none"/>
<circle cx="451.20" cy="349.60" r="0.85" fill="#000" stroke="none"/>
<line x1="481.60" y1="289.00" x2="481.60" y2="295.00" stroke-width="0.7"/>
<circle cx="481.60" cy="289.00" r="0.85" fill="#000" stroke="none"/>
<circle cx="481.60" cy="295.00" r="0.85" fill="#000" stroke="none"/>
<line x1="479.00" y1="290.50" x2="484.20" y2="293.50" stroke-width="0.7"/>
<circle cx="479.00" cy="290.50" r="0.85" fill="#000" stroke="none"/>
<circle cx="484.20" cy="293.50" r="0.85" fill="#000" stroke="none"/>
<line x1="484.20" y1="290.50" x2="479.00" y2="293.50" stroke-width="0.7"/>
<circle cx="484.20" cy="290.50" r="0.85" fill="#000" stroke="none"/>
<circle cx="479.00" cy="293.50" r="0.85" fill="#000" stroke="none"/>
<circle cx="481.60" cy="292.00" r="0.85" fill="#000" stroke="none"/>
<line x1="481.60" y1="320.00" x2="481.60" y2="326.00" stroke-width="0.7"/>
<circle cx="481.60" cy="320.00" r="0.85" fill="#000" stroke="none"/>
<circle cx="481.60" cy="326.00" r="0.85" fill="#000" stroke="none"/>
<line x1="479.00" y1="321.50" x2="484.20" y2="324.50" stroke-width="0.7"/>
<circle cx="479.00" cy="321.50" r="0.85" fill="#000" stroke="none"/>
<circle cx="484.20" cy="324.50" r="0.85" fill="#000" stroke="none"/>
<line x1="484.20" y1="321.50" x2="479.00" y2="324.50" stroke-width="0.7"/>
<circle cx="484.20" cy="321.50" r="0.85" fill="#000" stroke="none"/>
<circle cx="479.00" cy="324.50" r="0.85" fill="#000" stroke="none"/>
<circle cx="481.60" cy="323.00" r="0.85" fill="#000" stroke="none"/>
<line x1="53.90" y1="551.30" x2="53.90" y2="737.60" stroke-width="1.5"/>
<line x1="48.60" y1="551.30" x2="53.90" y2="551.30" stroke-width="1.5"/>
<text x="44.4" y="553.8" font-size="10.6" text-anchor="end" letter-spacing="0.25">2.0</text>
<line x1="48.60" y1="597.90" x2="53.90" y2="597.90" stroke-width="1.5"/>
<text id="t13" x="44.8" y="600.8" font-size="10.6" text-anchor="end" letter-spacing="0.25"><tspan class="o1">1</tspan>.5</text>
<path transform="translate(29.300 600.800) scale(0.005176 -0.005176)" d="M515,0L696,0L696,1409L530,1409L197,1180L197,1010L515,1237Z" fill="#000" stroke="#000" stroke-width="0.3" vector-effect="non-scaling-stroke"/>
<line x1="48.60" y1="644.40" x2="53.90" y2="644.40" stroke-width="1.5"/>
<text id="t14" x="44.4" y="647.6" font-size="10.6" text-anchor="end" letter-spacing="0.25"><tspan class="o1">1</tspan>.0</text>
<path transform="translate(28.900 647.600) scale(0.005176 -0.005176)" d="M515,0L696,0L696,1409L530,1409L197,1180L197,1010L515,1237Z" fill="#000" stroke="#000" stroke-width="0.3" vector-effect="non-scaling-stroke"/>
<line x1="48.60" y1="690.80" x2="53.90" y2="690.80" stroke-width="1.5"/>
<text x="44.8" y="692.9" font-size="10.6" text-anchor="end" letter-spacing="0.25">0.5</text>
<line x1="48.60" y1="737.50" x2="53.90" y2="737.50" stroke-width="1.5"/>
<text x="44.4" y="740.2" font-size="10.6" text-anchor="end" letter-spacing="0.25">0</text>
<line x1="64.90" y1="737.90" x2="249.70" y2="737.90" stroke-width="1.5"/>
<line x1="64.90" y1="737.90" x2="64.90" y2="742.90" stroke-width="1.5"/>
<line x1="95.70" y1="737.90" x2="95.70" y2="742.90" stroke-width="1.5"/>
<line x1="126.50" y1="737.90" x2="126.50" y2="742.90" stroke-width="1.5"/>
<line x1="157.30" y1="737.90" x2="157.30" y2="742.90" stroke-width="1.5"/>
<line x1="188.10" y1="737.90" x2="188.10" y2="742.90" stroke-width="1.5"/>
<line x1="218.90" y1="737.90" x2="218.90" y2="742.90" stroke-width="1.5"/>
<line x1="249.70" y1="737.90" x2="249.70" y2="742.90" stroke-width="1.5"/>
<text x="62.60" y="755.0" font-size="10.6" text-anchor="middle">0</text>
<text id="t15" x="94.70" y="755.0" font-size="10.6" text-anchor="middle"><tspan class="o1">1</tspan></text>
<path transform="translate(91.747 755.000) scale(0.005176 -0.005176)" d="M515,0L696,0L696,1409L530,1409L197,1180L197,1010L515,1237Z" fill="#000" stroke="#000" stroke-width="0.3" vector-effect="non-scaling-stroke"/>
<text x="125.10" y="755.0" font-size="10.6" text-anchor="middle">2</text>
<text x="157.60" y="755.0" font-size="10.6" text-anchor="middle">3</text>
<text x="188.30" y="755.0" font-size="10.6" text-anchor="middle">4</text>
<text x="219.70" y="755.0" font-size="10.6" text-anchor="middle">5</text>
<text x="250.00" y="755.0" font-size="10.6" text-anchor="middle">6</text>
<text x="142.0" y="771.6" font-size="10.8" text-anchor="middle" textLength="57.4" lengthAdjust="spacing">Time (days)</text>
<text x="18.1" y="644.9" font-size="10.8" text-anchor="middle" transform="rotate(-90 18.1 644.9)" textLength="181.0" lengthAdjust="spacing">NBT reducing activity (O.D. 540 nm)</text>
<text x="-1.3" y="541.0" font-size="24" font-weight="bold" class="L">E</text>
<polyline points="95.70,729.50 126.50,727.30 157.30,720.90 188.10,733.00 218.90,721.20" fill="none" stroke-width="1.4" stroke-linejoin="round"/>
<polyline points="95.70,731.40 126.50,730.90 157.30,727.70 188.10,733.30 218.90,726.30" fill="none" stroke-width="1.4" stroke-linejoin="round"/>
<polyline points="95.70,722.50 126.50,720.00 157.30,708.60 188.10,695.80 218.90,670.20" fill="none" stroke-width="1.4" stroke-linejoin="round"/>
<polyline points="95.70,715.20 126.50,698.00 157.30,686.20 188.10,669.30 218.90,610.10" fill="none" stroke-width="1.4" stroke-linejoin="round"/>
<line x1="157.30" y1="720.90" x2="157.30" y2="717.30" stroke-width="1.3"/>
<line x1="154.10" y1="717.30" x2="160.50" y2="717.30" stroke-width="1.5"/>
<line x1="218.90" y1="721.20" x2="218.90" y2="716.40" stroke-width="1.3"/>
<line x1="215.70" y1="716.40" x2="222.10" y2="716.40" stroke-width="1.5"/>
<line x1="95.70" y1="731.40" x2="95.70" y2="728.20" stroke-width="1.3"/>
<line x1="92.50" y1="728.20" x2="98.90" y2="728.20" stroke-width="1.5"/>
<line x1="188.10" y1="733.30" x2="188.10" y2="728.50" stroke-width="1.3"/>
<line x1="184.90" y1="728.50" x2="191.30" y2="728.50" stroke-width="1.5"/>
<line x1="126.50" y1="720.00" x2="126.50" y2="717.30" stroke-width="1.3"/>
<line x1="123.30" y1="717.30" x2="129.70" y2="717.30" stroke-width="1.5"/>
<line x1="188.10" y1="695.80" x2="188.10" y2="691.20" stroke-width="1.3"/>
<line x1="184.90" y1="691.20" x2="191.30" y2="691.20" stroke-width="1.5"/>
<line x1="218.90" y1="670.20" x2="218.90" y2="665.80" stroke-width="1.3"/>
<line x1="215.70" y1="665.80" x2="222.10" y2="665.80" stroke-width="1.5"/>
<line x1="95.70" y1="715.20" x2="95.70" y2="712.00" stroke-width="1.3"/>
<line x1="92.50" y1="712.00" x2="98.90" y2="712.00" stroke-width="1.5"/>
<line x1="126.50" y1="698.00" x2="126.50" y2="694.50" stroke-width="1.3"/>
<line x1="123.30" y1="694.50" x2="129.70" y2="694.50" stroke-width="1.5"/>
<line x1="157.30" y1="686.20" x2="157.30" y2="678.80" stroke-width="1.3"/>
<line x1="154.10" y1="678.80" x2="160.50" y2="678.80" stroke-width="1.5"/>
<line x1="188.10" y1="669.30" x2="188.10" y2="660.80" stroke-width="1.3"/>
<line x1="184.90" y1="660.80" x2="191.30" y2="660.80" stroke-width="1.5"/>
<line x1="218.90" y1="610.10" x2="218.90" y2="591.90" stroke-width="1.3"/>
<line x1="215.70" y1="591.90" x2="222.10" y2="591.90" stroke-width="1.5"/>
<polygon points="95.70,726.40 92.80,732.20 98.60,732.20" fill="#000" stroke-width="0.7" stroke-linejoin="miter"/>
<polygon points="126.50,724.20 123.60,730.00 129.40,730.00" fill="#000" stroke-width="0.7" stroke-linejoin="miter"/>
<polygon points="157.30,717.80 154.40,723.60 160.20,723.60" fill="#000" stroke-width="0.7" stroke-linejoin="miter"/>
<polygon points="188.10,729.90 185.20,735.70 191.00,735.70" fill="#000" stroke-width="0.7" stroke-linejoin="miter"/>
<polygon points="218.90,718.10 216.00,723.90 221.80,723.90" fill="#000" stroke-width="0.7" stroke-linejoin="miter"/>
<polygon points="95.70,728.60 93.15,733.90 98.25,733.90" fill="#fff" stroke-width="1.2" stroke-linejoin="miter"/>
<polygon points="126.50,728.10 123.95,733.40 129.05,733.40" fill="#fff" stroke-width="1.2" stroke-linejoin="miter"/>
<polygon points="157.30,724.90 154.75,730.20 159.85,730.20" fill="#fff" stroke-width="1.2" stroke-linejoin="miter"/>
<polygon points="188.10,730.50 185.55,735.80 190.65,735.80" fill="#fff" stroke-width="1.2" stroke-linejoin="miter"/>
<polygon points="218.90,723.50 216.35,728.80 221.45,728.80" fill="#fff" stroke-width="1.2" stroke-linejoin="miter"/>
<circle cx="95.70" cy="722.50" r="2.55" fill="#fff" stroke-width="1.35"/>
<circle cx="126.50" cy="720.00" r="2.55" fill="#fff" stroke-width="1.35"/>
<circle cx="157.30" cy="708.60" r="2.55" fill="#fff" stroke-width="1.35"/>
<circle cx="188.10" cy="695.80" r="2.55" fill="#fff" stroke-width="1.35"/>
<circle cx="218.90" cy="670.20" r="2.55" fill="#fff" stroke-width="1.35"/>
<circle cx="95.70" cy="715.20" r="3.3" fill="#000" stroke="none"/>
<circle cx="126.50" cy="698.00" r="3.3" fill="#000" stroke="none"/>
<circle cx="157.30" cy="686.20" r="3.3" fill="#000" stroke="none"/>
<circle cx="188.10" cy="669.30" r="3.3" fill="#000" stroke="none"/>
<circle cx="218.90" cy="610.10" r="3.3" fill="#000" stroke="none"/>
<line x1="122.40" y1="684.90" x2="122.40" y2="690.90" stroke-width="0.7"/>
<circle cx="122.40" cy="684.90" r="0.85" fill="#000" stroke="none"/>
<circle cx="122.40" cy="690.90" r="0.85" fill="#000" stroke="none"/>
<line x1="119.80" y1="686.40" x2="125.00" y2="689.40" stroke-width="0.7"/>
<circle cx="119.80" cy="686.40" r="0.85" fill="#000" stroke="none"/>
<circle cx="125.00" cy="689.40" r="0.85" fill="#000" stroke="none"/>
<line x1="125.00" y1="686.40" x2="119.80" y2="689.40" stroke-width="0.7"/>
<circle cx="125.00" cy="686.40" r="0.85" fill="#000" stroke="none"/>
<circle cx="119.80" cy="689.40" r="0.85" fill="#000" stroke="none"/>
<circle cx="122.40" cy="687.90" r="0.85" fill="#000" stroke="none"/>
<circle cx="130.70" cy="687.90" r="2.35" fill="none" stroke-width="1.15"/>
<line x1="154.30" y1="669.30" x2="154.30" y2="675.30" stroke-width="0.7"/>
<circle cx="154.30" cy="669.30" r="0.85" fill="#000" stroke="none"/>
<circle cx="154.30" cy="675.30" r="0.85" fill="#000" stroke="none"/>
<line x1="151.70" y1="670.80" x2="156.90" y2="673.80" stroke-width="0.7"/>
<circle cx="151.70" cy="670.80" r="0.85" fill="#000" stroke="none"/>
<circle cx="156.90" cy="673.80" r="0.85" fill="#000" stroke="none"/>
<line x1="156.90" y1="670.80" x2="151.70" y2="673.80" stroke-width="0.7"/>
<circle cx="156.90" cy="670.80" r="0.85" fill="#000" stroke="none"/>
<circle cx="151.70" cy="673.80" r="0.85" fill="#000" stroke="none"/>
<circle cx="154.30" cy="672.30" r="0.85" fill="#000" stroke="none"/>
<circle cx="162.60" cy="672.30" r="2.35" fill="none" stroke-width="1.15"/>
<line x1="157.50" y1="695.20" x2="157.50" y2="701.20" stroke-width="0.7"/>
<circle cx="157.50" cy="695.20" r="0.85" fill="#000" stroke="none"/>
<circle cx="157.50" cy="701.20" r="0.85" fill="#000" stroke="none"/>
<line x1="154.90" y1="696.70" x2="160.10" y2="699.70" stroke-width="0.7"/>
<circle cx="154.90" cy="696.70" r="0.85" fill="#000" stroke="none"/>
<circle cx="160.10" cy="699.70" r="0.85" fill="#000" stroke="none"/>
<line x1="160.10" y1="696.70" x2="154.90" y2="699.70" stroke-width="0.7"/>
<circle cx="160.10" cy="696.70" r="0.85" fill="#000" stroke="none"/>
<circle cx="154.90" cy="699.70" r="0.85" fill="#000" stroke="none"/>
<circle cx="157.50" cy="698.20" r="0.85" fill="#000" stroke="none"/>
<line x1="183.20" y1="649.90" x2="183.20" y2="655.90" stroke-width="0.7"/>
<circle cx="183.20" cy="649.90" r="0.85" fill="#000" stroke="none"/>
<circle cx="183.20" cy="655.90" r="0.85" fill="#000" stroke="none"/>
<line x1="180.60" y1="651.40" x2="185.80" y2="654.40" stroke-width="0.7"/>
<circle cx="180.60" cy="651.40" r="0.85" fill="#000" stroke="none"/>
<circle cx="185.80" cy="654.40" r="0.85" fill="#000" stroke="none"/>
<line x1="185.80" y1="651.40" x2="180.60" y2="654.40" stroke-width="0.7"/>
<circle cx="185.80" cy="651.40" r="0.85" fill="#000" stroke="none"/>
<circle cx="180.60" cy="654.40" r="0.85" fill="#000" stroke="none"/>
<circle cx="183.20" cy="652.90" r="0.85" fill="#000" stroke="none"/>
<circle cx="191.50" cy="652.90" r="2.35" fill="none" stroke-width="1.15"/>
<line x1="188.00" y1="680.30" x2="188.00" y2="686.30" stroke-width="0.7"/>
<circle cx="188.00" cy="680.30" r="0.85" fill="#000" stroke="none"/>
<circle cx="188.00" cy="686.30" r="0.85" fill="#000" stroke="none"/>
<line x1="185.40" y1="681.80" x2="190.60" y2="684.80" stroke-width="0.7"/>
<circle cx="185.40" cy="681.80" r="0.85" fill="#000" stroke="none"/>
<circle cx="190.60" cy="684.80" r="0.85" fill="#000" stroke="none"/>
<line x1="190.60" y1="681.80" x2="185.40" y2="684.80" stroke-width="0.7"/>
<circle cx="190.60" cy="681.80" r="0.85" fill="#000" stroke="none"/>
<circle cx="185.40" cy="684.80" r="0.85" fill="#000" stroke="none"/>
<circle cx="188.00" cy="683.30" r="0.85" fill="#000" stroke="none"/>
<line x1="216.30" y1="580.40" x2="216.30" y2="586.40" stroke-width="0.7"/>
<circle cx="216.30" cy="580.40" r="0.85" fill="#000" stroke="none"/>
<circle cx="216.30" cy="586.40" r="0.85" fill="#000" stroke="none"/>
<line x1="213.70" y1="581.90" x2="218.90" y2="584.90" stroke-width="0.7"/>
<circle cx="213.70" cy="581.90" r="0.85" fill="#000" stroke="none"/>
<circle cx="218.90" cy="584.90" r="0.85" fill="#000" stroke="none"/>
<line x1="218.90" y1="581.90" x2="213.70" y2="584.90" stroke-width="0.7"/>
<circle cx="218.90" cy="581.90" r="0.85" fill="#000" stroke="none"/>
<circle cx="213.70" cy="584.90" r="0.85" fill="#000" stroke="none"/>
<circle cx="216.30" cy="583.40" r="0.85" fill="#000" stroke="none"/>
<circle cx="224.60" cy="583.40" r="2.35" fill="none" stroke-width="1.15"/>
<line x1="219.30" y1="653.60" x2="219.30" y2="659.60" stroke-width="0.7"/>
<circle cx="219.30" cy="653.60" r="0.85" fill="#000" stroke="none"/>
<circle cx="219.30" cy="659.60" r="0.85" fill="#000" stroke="none"/>
<line x1="216.70" y1="655.10" x2="221.90" y2="658.10" stroke-width="0.7"/>
<circle cx="216.70" cy="655.10" r="0.85" fill="#000" stroke="none"/>
<circle cx="221.90" cy="658.10" r="0.85" fill="#000" stroke="none"/>
<line x1="221.90" y1="655.10" x2="216.70" y2="658.10" stroke-width="0.7"/>
<circle cx="221.90" cy="655.10" r="0.85" fill="#000" stroke="none"/>
<circle cx="216.70" cy="658.10" r="0.85" fill="#000" stroke="none"/>
<circle cx="219.30" cy="656.60" r="0.85" fill="#000" stroke="none"/>
</g></svg></body></html>
